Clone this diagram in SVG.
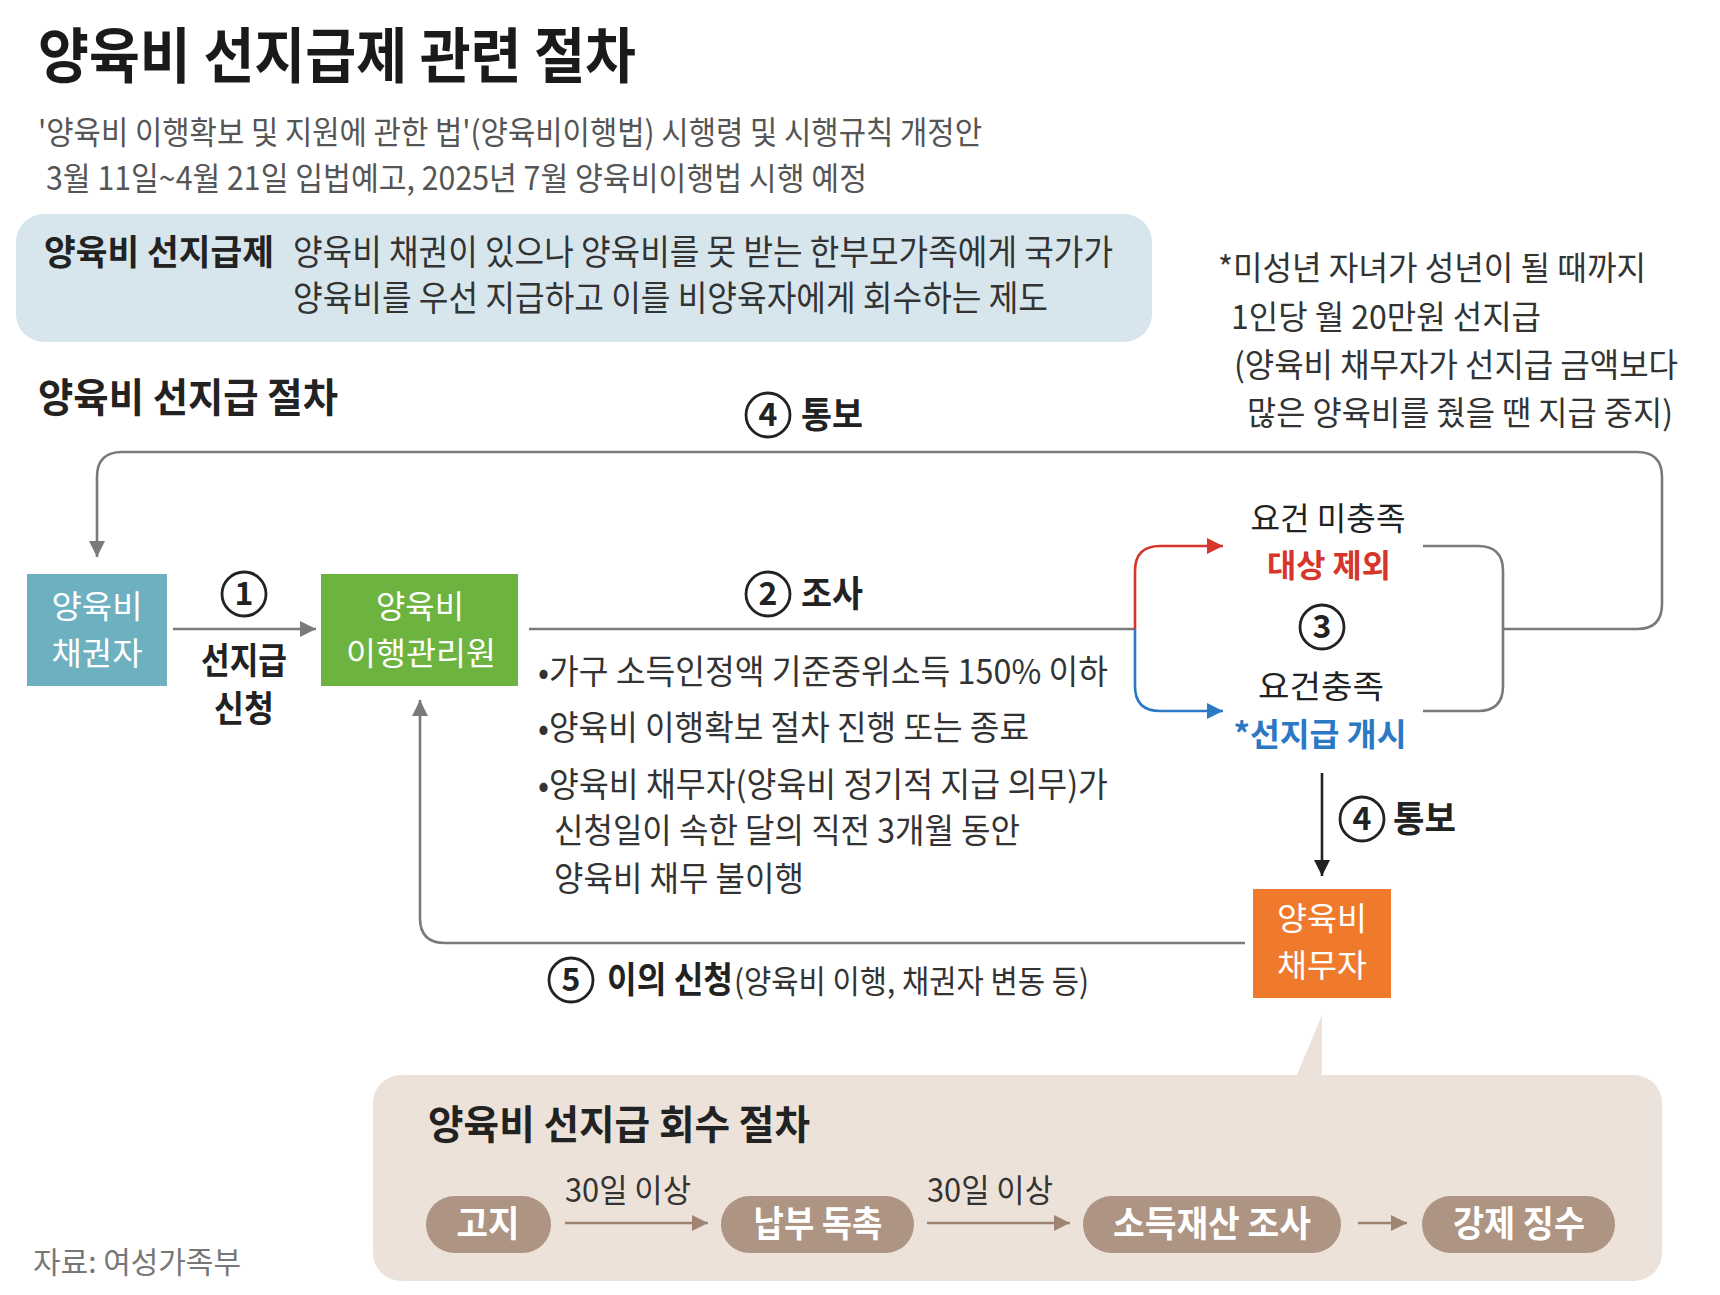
<svg xmlns="http://www.w3.org/2000/svg" width="1720" height="1295" viewBox="0 0 1720 1295">
<style>
text{font-family:"Noto Sans CJK KR","Noto Sans",sans-serif;fill:#333}
.b{font-weight:700}
.t{font-size:60px;font-weight:700;fill:#1a1a1a}
.sub{font-size:32px;fill:#555}
.box{font-size:35px}
.note{font-size:33px;fill:#333}
.h2{font-size:40px;font-weight:700;fill:#222}
.lab{font-size:36px;font-weight:700;fill:#222}
.lab2{font-size:32px;font-weight:700;fill:#222}
.bul{font-size:34px;fill:#333}
.w{font-size:32px;fill:#fff;text-anchor:middle}
.pill{font-size:36px;font-weight:700;fill:#fff;text-anchor:middle}
.num{font-size:32px;font-weight:700;fill:#222;text-anchor:middle}
.circ{fill:#fff;stroke:#222;stroke-width:2.8}
.ln{fill:none;stroke:#7a7a7a;stroke-width:2.6}
.br{fill:none;stroke:#a08472;stroke-width:2.6}
</style>
<defs>
<marker id="ag" viewBox="0 0 10 10" refX="10" refY="5" markerWidth="16" markerHeight="16" markerUnits="userSpaceOnUse" orient="auto"><path d="M0,0L10,5L0,10z" fill="#7a7a7a"/></marker>
<marker id="ar" viewBox="0 0 10 10" refX="10" refY="5" markerWidth="16" markerHeight="16" markerUnits="userSpaceOnUse" orient="auto"><path d="M0,0L10,5L0,10z" fill="#d6352c"/></marker>
<marker id="ab" viewBox="0 0 10 10" refX="10" refY="5" markerWidth="16" markerHeight="16" markerUnits="userSpaceOnUse" orient="auto"><path d="M0,0L10,5L0,10z" fill="#2b78c5"/></marker>
<marker id="ak" viewBox="0 0 10 10" refX="10" refY="5" markerWidth="16" markerHeight="16" markerUnits="userSpaceOnUse" orient="auto"><path d="M0,0L10,5L0,10z" fill="#222"/></marker>
<marker id="an" viewBox="0 0 10 10" refX="10" refY="5" markerWidth="16" markerHeight="16" markerUnits="userSpaceOnUse" orient="auto"><path d="M0,0L10,5L0,10z" fill="#a08472"/></marker>
</defs>
<rect width="1720" height="1295" fill="#fff"/>

<g id="header">
<text class="t" x="38" y="78" textLength="598" lengthAdjust="spacingAndGlyphs">양육비 선지급제 관련 절차</text>
<text class="sub" x="38" y="144" textLength="944" lengthAdjust="spacingAndGlyphs">'양육비 이행확보 및 지원에 관한 법'(양육비이행법) 시행령 및 시행규칙 개정안</text>
<text class="sub" x="46" y="190" textLength="821" lengthAdjust="spacingAndGlyphs">3월 11일~4월 21일 입법예고, 2025년 7월 양육비이행법 시행 예정</text>
</g>

<g id="definition">
<rect x="16" y="214" width="1136" height="128" rx="28" fill="#d6e6ec"/>
<text class="box b" x="44" y="265" textLength="230" lengthAdjust="spacingAndGlyphs" style="fill:#222">양육비 선지급제</text>
<text class="box" x="293" y="265" textLength="820" lengthAdjust="spacingAndGlyphs">양육비 채권이 있으나 양육비를 못 받는 한부모가족에게 국가가</text>
<text class="box" x="293" y="311" textLength="755" lengthAdjust="spacingAndGlyphs">양육비를 우선 지급하고 이를 비양육자에게 회수하는 제도</text>
</g>

<g id="note">
<text class="note" x="1218" y="280" textLength="428" lengthAdjust="spacingAndGlyphs">*미성년 자녀가 성년이 될 때까지</text>
<text class="note" x="1231" y="329" textLength="310" lengthAdjust="spacingAndGlyphs">1인당 월 20만원 선지급</text>
<text class="note" x="1234" y="377" textLength="444" lengthAdjust="spacingAndGlyphs">(양육비 채무자가 선지급 금액보다</text>
<text class="note" x="1247" y="425" textLength="426" lengthAdjust="spacingAndGlyphs">많은 양육비를 줬을 땐 지급 중지)</text>
</g>

<text class="h2" x="38" y="412" textLength="300" lengthAdjust="spacingAndGlyphs">양육비 선지급 절차</text>

<g id="connectors">
<path class="ln" d="M1503,629 H1637 Q1662,629 1662,604 V477 Q1662,452 1637,452 H122 Q97,452 97,477 V557" marker-end="url(#ag)"/>
<path class="ln" d="M173,629 H316" marker-end="url(#ag)"/>
<path class="ln" d="M529,629 H1135"/>
<path fill="none" stroke="#d6352c" stroke-width="2.6" d="M1135,629 V571 Q1135,546 1160,546 H1223" marker-end="url(#ar)"/>
<path fill="none" stroke="#2b78c5" stroke-width="2.6" d="M1135,629 V686 Q1135,711 1160,711 H1223" marker-end="url(#ab)"/>
<path class="ln" d="M1423,546 H1478 Q1503,546 1503,571 V686 Q1503,711 1478,711 H1423"/>
<path fill="none" stroke="#222" stroke-width="2.6" d="M1322,773 V876" marker-end="url(#ak)"/>
<path class="ln" d="M1245,943 H445 Q420,943 420,918 V700" marker-end="url(#ag)"/>
</g>

<g id="label4top">
<circle class="circ" cx="768" cy="415" r="22"/>
<text class="num" x="768" y="426">4</text>
<text class="lab" x="801" y="428" textLength="62" lengthAdjust="spacingAndGlyphs">통보</text>
</g>

<g id="creditor">
<rect x="27" y="574" width="140" height="112" fill="#6db0c0"/>
<text class="w" x="97" y="618" textLength="91" lengthAdjust="spacingAndGlyphs">양육비</text>
<text class="w" x="97" y="665" textLength="91" lengthAdjust="spacingAndGlyphs">채권자</text>
</g>

<g id="label1">
<circle class="circ" cx="244" cy="594" r="22"/>
<text class="num" x="244" y="605">1</text>
<text class="lab" x="244" y="674" text-anchor="middle" textLength="86" lengthAdjust="spacingAndGlyphs">선지급</text>
<text class="lab" x="244" y="722" text-anchor="middle" textLength="60" lengthAdjust="spacingAndGlyphs">신청</text>
</g>

<g id="agency">
<rect x="321" y="574" width="197" height="112" fill="#6cb43f"/>
<text class="w" x="420" y="618" textLength="88" lengthAdjust="spacingAndGlyphs">양육비</text>
<text class="w" x="421" y="665" textLength="150" lengthAdjust="spacingAndGlyphs">이행관리원</text>
</g>

<g id="label2">
<circle class="circ" cx="768" cy="594" r="22"/>
<text class="num" x="768" y="605">2</text>
<text class="lab" x="801" y="607" textLength="62" lengthAdjust="spacingAndGlyphs">조사</text>
<text class="bul" x="538" y="684" textLength="570" lengthAdjust="spacingAndGlyphs">•가구 소득인정액 기준중위소득 150% 이하</text>
<text class="bul" x="538" y="740" textLength="491" lengthAdjust="spacingAndGlyphs">•양육비 이행확보 절차 진행 또는 종료</text>
<text class="bul" x="538" y="797" textLength="570" lengthAdjust="spacingAndGlyphs">•양육비 채무자(양육비 정기적 지급 의무)가</text>
<text class="bul" x="554" y="843" textLength="466" lengthAdjust="spacingAndGlyphs">신청일이 속한 달의 직전 3개월 동안</text>
<text class="bul" x="554" y="891" textLength="250" lengthAdjust="spacingAndGlyphs">양육비 채무 불이행</text>
</g>

<g id="decision">
<text class="bul" x="1328" y="530" text-anchor="middle" textLength="155" lengthAdjust="spacingAndGlyphs" style="fill:#222;font-size:32px">요건 미충족</text>
<text class="lab2" x="1329" y="577" text-anchor="middle" textLength="124" lengthAdjust="spacingAndGlyphs" style="fill:#d6352c">대상 제외</text>
<circle class="circ" cx="1322" cy="627" r="22"/>
<text class="num" x="1322" y="638">3</text>
<text class="bul" x="1321" y="698" text-anchor="middle" textLength="126" lengthAdjust="spacingAndGlyphs" style="fill:#222;font-size:32px">요건충족</text>
<text class="lab2" x="1320" y="746" text-anchor="middle" textLength="173" lengthAdjust="spacingAndGlyphs" style="fill:#2b78c5">*선지급 개시</text>
</g>

<g id="label4bottom">
<circle class="circ" cx="1362" cy="819" r="22"/>
<text class="num" x="1362" y="830">4</text>
<text class="lab" x="1393" y="832" textLength="63" lengthAdjust="spacingAndGlyphs">통보</text>
</g>

<g id="debtor">
<rect x="1253" y="889" width="138" height="109" fill="#f07a2b"/>
<text class="w" x="1322" y="930" textLength="90" lengthAdjust="spacingAndGlyphs">양육비</text>
<text class="w" x="1322" y="977" textLength="90" lengthAdjust="spacingAndGlyphs">채무자</text>
</g>

<g id="label5">
<circle class="circ" cx="571" cy="980" r="22"/>
<text class="num" x="571" y="991">5</text>
<text class="lab" x="607" y="993" textLength="126" lengthAdjust="spacingAndGlyphs">이의 신청</text>
<text class="bul" x="734" y="993" textLength="355" lengthAdjust="spacingAndGlyphs" style="font-size:32px">(양육비 이행, 채권자 변동 등)</text>
</g>

<g id="recovery">
<path d="M1296,1077 L1322,1015 L1322,1077 Z" fill="#ede2d9"/>
<rect x="373" y="1075" width="1289" height="206" rx="28" fill="#ede2d9"/>
<text class="h2" x="428" y="1139" textLength="382" lengthAdjust="spacingAndGlyphs">양육비 선지급 회수 절차</text>
<g id="step1"><rect x="426" y="1196" width="125" height="57" rx="28.5" fill="#ae9482"/><text class="pill" x="488" y="1237" textLength="63" lengthAdjust="spacingAndGlyphs">고지</text></g>
<g id="step2"><rect x="721" y="1196" width="193" height="57" rx="28.5" fill="#ae9482"/><text class="pill" x="818" y="1237" textLength="129" lengthAdjust="spacingAndGlyphs">납부 독촉</text></g>
<g id="step3"><rect x="1083" y="1196" width="258" height="57" rx="28.5" fill="#ae9482"/><text class="pill" x="1212" y="1237" textLength="198" lengthAdjust="spacingAndGlyphs">소득재산 조사</text></g>
<g id="step4"><rect x="1422" y="1196" width="193" height="57" rx="28.5" fill="#ae9482"/><text class="pill" x="1519" y="1237" textLength="132" lengthAdjust="spacingAndGlyphs">강제 징수</text></g>
<g id="recovery-connectors">
<path class="br" d="M565,1223 H708" marker-end="url(#an)"/>
<path class="br" d="M927,1223 H1070" marker-end="url(#an)"/>
<path class="br" d="M1358,1223 H1407" marker-end="url(#an)"/>
</g>
<text class="bul" x="565" y="1202" textLength="126" lengthAdjust="spacingAndGlyphs" style="font-size:32px;fill:#333">30일 이상</text>
<text class="bul" x="927" y="1202" textLength="126" lengthAdjust="spacingAndGlyphs" style="font-size:32px;fill:#333">30일 이상</text>
</g>

<text x="33" y="1273" textLength="208" lengthAdjust="spacingAndGlyphs" style="font-size:30px;fill:#777">자료: 여성가족부</text>
</svg>
